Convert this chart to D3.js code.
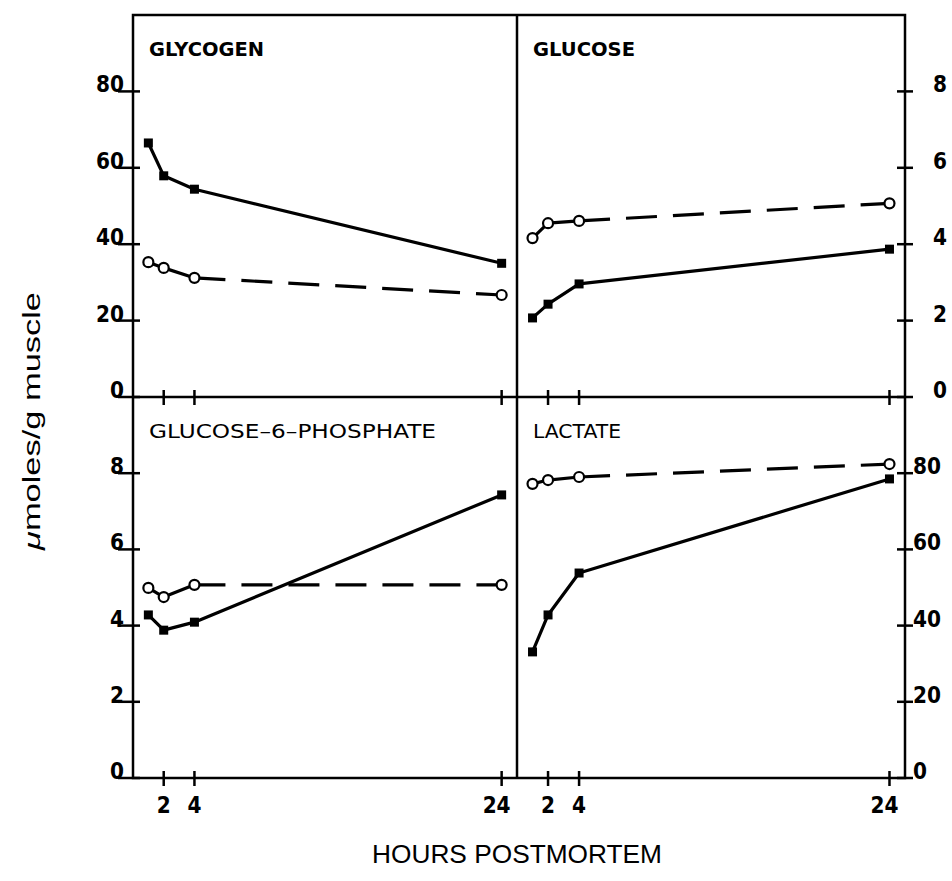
<!DOCTYPE html>
<meta charset="utf-8">
<head>
  <script src="https://cdn.jsdelivr.net/npm/d3@7"></script>
  <style>
    body { margin: 0; background: #fff; }
    .frame { stroke: #000; stroke-width: 2.5px; fill: none; }
    .tick-mark { stroke: #000; stroke-width: 2.5px; }
    .lbl { font-family: "DejaVu Sans", sans-serif; font-weight: bold; font-size: 23px; fill: #000; }
    .title { font-family: "DejaVu Sans", sans-serif; font-size: 20px; fill: #000; }
  </style>
</head>
<body>
<div id="chart"></div>
<script>
// values
var hours = [1, 2, 4, 24];
var glycogenSolid  = [66.5, 57.9, 54.4, 35.0];
var glycogenDashed = [35.3, 33.8, 31.2, 26.7];
var glucoseSolid   = [2.07, 2.43, 2.96, 3.87];
var glucoseDashed  = [4.16, 4.55, 4.61, 5.07];
var g6pSolid       = [4.28, 3.88, 4.09, 7.43];
var g6pDashed      = [4.99, 4.75, 5.07, 5.07];
var lactateSolid   = [33.1, 42.8, 53.8, 78.5];
var lactateDashed  = [77.2, 78.2, 79.0, 82.4];
var hourTicks = [2, 4, 24];
var bigTicks = [0, 20, 40, 60, 80];
var smallTicks = [0, 2, 4, 6, 8];
var titles = ["GLYCOGEN", "GLUCOSE", "GLUCOSE\u20136\u2013PHOSPHATE", "LACTATE"];

var W = 952, H = 881;
var fLeft = 133, fMid = 517, fRight = 905, fTop = 15, fMidY = 397, fBottom = 778;

var svg = d3.select("#chart").append("svg")
    .attr("width", W).attr("height", H);

var panels = [
  {title: titles[0], solid: glycogenSolid, dashed: glycogenDashed, max: 100, ticks: bigTicks,
   x0: fLeft, x1: fMid, y0: fMidY, y1: fTop, side: "left", bold: true, tw: 115},
  {title: titles[1], solid: glucoseSolid, dashed: glucoseDashed, max: 10, ticks: smallTicks,
   x0: fMid, x1: fRight, y0: fMidY, y1: fTop, side: "right", labelX: 933, bold: true, tw: 102},
  {title: titles[2], solid: g6pSolid, dashed: g6pDashed, max: 10, ticks: smallTicks,
   x0: fLeft, x1: fMid, y0: fBottom, y1: fMidY, side: "left", bold: false, tw: 287},
  {title: titles[3], solid: lactateSolid, dashed: lactateDashed, max: 100, ticks: bigTicks,
   x0: fMid, x1: fRight, y0: fBottom, y1: fMidY, side: "right", labelX: 913, bold: false, tw: 88}
];

panels.forEach(function(p) {
  var x = d3.scaleLinear().domain([0, 25]).range([p.x0, p.x1]);
  var y = d3.scaleLinear().domain([0, p.max]).range([p.y0, p.y1]);
  var g = svg.append("g");

  // y ticks crossing the outer edge
  var ax = p.side === "left" ? p.x0 : p.x1;
  g.selectAll(".yt").data(p.ticks).enter().append("line")
      .attr("class", "tick-mark")
      .attr("x1", p.side === "left" ? ax - 15 : ax - 8)
      .attr("x2", p.side === "left" ? ax + 7 : ax + 8)
      .attr("y1", d => y(d)).attr("y2", d => y(d));
  g.selectAll(".yl").data(p.ticks).enter().append("text")
      .attr("class", "lbl")
      .attr("x", p.side === "left" ? ax - 9 : p.labelX)
      .attr("y", d => y(d) + 1)
      .attr("text-anchor", p.side === "left" ? "end" : "start")
      .attr("textLength", d => String(d).length * 14)
      .attr("lengthAdjust", "spacingAndGlyphs")
      .text(d => d);

  // x ticks
  g.selectAll(".xt").data(hourTicks).enter().append("line")
      .attr("class", "tick-mark")
      .attr("x1", d => x(d)).attr("x2", d => x(d))
      .attr("y1", p.y0 - 7).attr("y2", p.y0 + 8);
  if (p.y0 === fBottom) {
    g.selectAll(".xl").data(hourTicks).enter().append("text")
        .attr("class", "lbl")
        .attr("x", d => d === 24 ? x(d) - 5 : x(d))
        .attr("y", fBottom + 35)
        .attr("text-anchor", "middle")
        .attr("textLength", d => String(d).length * 14)
        .attr("lengthAdjust", "spacingAndGlyphs")
        .text(d => d);
  }

  // title
  g.append("text")
      .attr("class", "title")
      .attr("x", p.x0 + 16)
      .attr("y", p.y1 + 41)
      .attr("font-weight", p.bold ? "bold" : "normal")
      .attr("textLength", p.tw)
      .attr("lengthAdjust", "spacingAndGlyphs")
      .text(p.title);

  var pts = function(vals) { return hours.map((h, i) => [x(h), y(vals[i])]); };

  // solid series
  g.append("path")
      .attr("d", d3.line()(pts(p.solid)))
      .attr("fill", "none").attr("stroke", "#000").attr("stroke-width", 3.2)
      .attr("stroke-linejoin", "round");

  // dashed series: pattern restarts on every segment
  var dp = pts(p.dashed);
  g.selectAll(".dseg").data(d3.pairs(dp)).enter().append("line")
      .attr("x1", d => d[0][0]).attr("y1", d => d[0][1])
      .attr("x2", d => d[1][0]).attr("y2", d => d[1][1])
      .attr("stroke", "#000").attr("stroke-width", 3.2)
      .attr("stroke-dasharray", "31,16");

  g.selectAll(".sq").data(pts(p.solid)).enter().append("rect")
      .attr("x", d => d[0] - 4.5).attr("y", d => d[1] - 4.5)
      .attr("width", 9).attr("height", 9).attr("fill", "#000");

  g.selectAll(".ci").data(dp).enter().append("circle")
      .attr("cx", d => d[0]).attr("cy", d => d[1]).attr("r", 5)
      .attr("fill", "#fff").attr("stroke", "#000").attr("stroke-width", 2.2);
});

// frame
svg.append("rect").attr("class", "frame")
    .attr("x", fLeft).attr("y", fTop).attr("width", fRight - fLeft).attr("height", fBottom - fTop);
svg.append("line").attr("class", "frame")
    .attr("x1", fLeft).attr("x2", fRight).attr("y1", fMidY).attr("y2", fMidY);
svg.append("line").attr("class", "frame")
    .attr("x1", fMid).attr("x2", fMid).attr("y1", fTop).attr("y2", fBottom);

// axis titles
var yt = svg.append("text")
    .attr("transform", "translate(40,421) rotate(-90)")
    .attr("text-anchor", "middle")
    .attr("font-family", "Liberation Sans, Arial, sans-serif")
    .attr("font-size", 23)
    .attr("textLength", 258)
    .attr("lengthAdjust", "spacingAndGlyphs");
yt.append("tspan").attr("font-style", "italic").text("\u03bc");
yt.append("tspan").text("moles/g muscle");

svg.append("text")
    .attr("x", 517).attr("y", 863)
    .attr("text-anchor", "middle")
    .attr("font-family", "Liberation Sans, Arial, sans-serif")
    .attr("font-size", 25)
    .attr("textLength", 290)
    .attr("lengthAdjust", "spacingAndGlyphs")
    .text("HOURS POSTMORTEM");
</script>
</body>
</html>
